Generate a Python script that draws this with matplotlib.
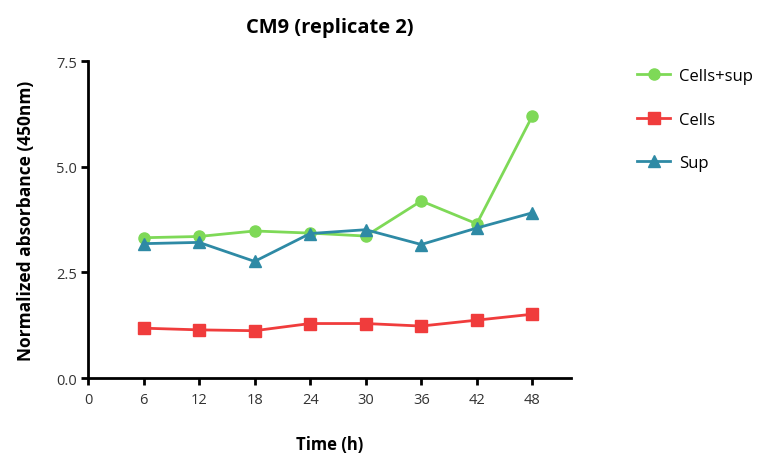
import matplotlib
matplotlib.use("Agg")
import matplotlib.pyplot as plt

plt.rcParams['font.family'] = ['Open Sans', 'DejaVu Sans']

time_h = [6, 12, 18, 24, 30, 36, 42, 48]
cells_sup = [3.32, 3.35, 3.48, 3.43, 3.36, 4.19, 3.65, 6.20]
cells = [1.18, 1.14, 1.12, 1.29, 1.29, 1.23, 1.37, 1.51]
sup = [3.18, 3.21, 2.76, 3.42, 3.51, 3.16, 3.55, 3.91]

x_ticks = [0, 6, 12, 18, 24, 30, 36, 42, 48]
y_ticks = [0.0, 2.5, 5.0, 7.5]

fig = plt.figure(figsize=(7.61, 4.60), dpi=100)
ax = fig.add_axes([0.1156, 0.176, 0.635, 0.689])

ax.plot(time_h, cells_sup, color='#7ED957', marker='o', markersize=8,
        linewidth=2, label='Cells+sup', zorder=3)
ax.plot(time_h, cells, color='#F03C3C', marker='s', markersize=8,
        linewidth=2, label='Cells', zorder=3)
ax.plot(time_h, sup, color='#2E8AA5', marker='^', markersize=9,
        linewidth=2, label='Sup', zorder=3)

ax.set_xlim(0, 52.2)
ax.set_ylim(0, 7.5)
ax.set_xticks(x_ticks)
ax.set_yticks(y_ticks)
ax.set_yticklabels([f'{v:.1f}' for v in y_ticks])

for side in ('top', 'right'):
    ax.spines[side].set_visible(False)
for side in ('left', 'bottom'):
    ax.spines[side].set_linewidth(2)
    ax.spines[side].set_color('black')
ax.spines['left'].set_bounds(0, 7.5)

ax.tick_params(axis='both', direction='out', length=5, width=2,
               labelsize=10.5, labelcolor='#333333', pad=3)
ax.tick_params(axis='x', pad=5)

ax.set_title('CM9 (replicate 2)', fontsize=14.5, fontweight='bold', pad=21)
ax.set_xlabel('Time (h)', fontsize=12, fontweight='bold', labelpad=20)
ax.set_ylabel('Normalized absorbance (450nm)', fontsize=12.5,
              fontweight='bold', labelpad=15)

ax.legend(loc='upper left', bbox_to_anchor=(1.105, 1.025), frameon=False,
          fontsize=12, handlelength=2.0, labelspacing=1.65,
          handletextpad=0.55)

fig.savefig('out.png', dpi=100)
